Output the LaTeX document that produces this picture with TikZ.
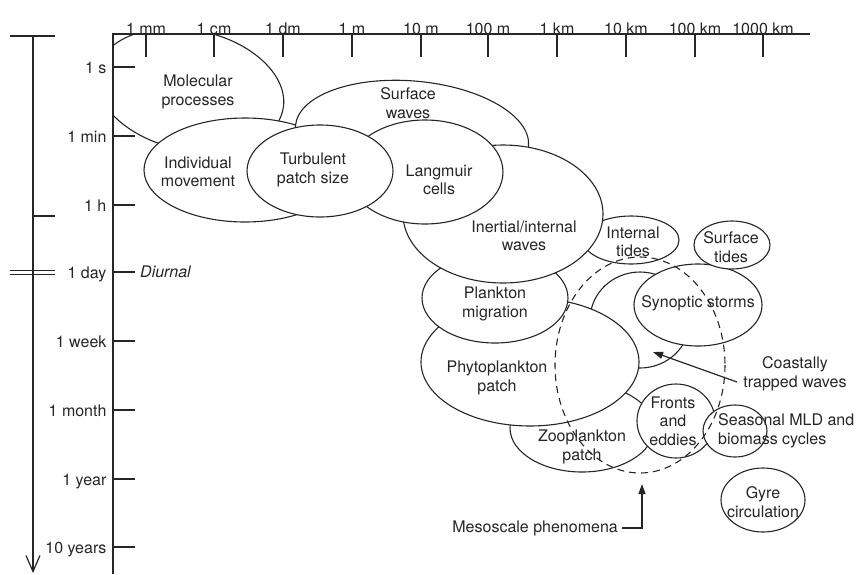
\documentclass[tikz,border=0pt]{standalone}
\usepackage{fontspec}
\setmainfont{TeX Gyre Heros}
\usetikzlibrary{arrows.meta}
\definecolor{ink}{HTML}{262626}
\begin{document}
\begin{tikzpicture}[x=1pt,y=-1pt,
  blob/.style={draw=ink, fill=white, line width=1.1pt},
  meso/.style={draw=ink, line width=1.1pt, dash pattern=on 7pt off 5pt},
  lbl/.style={text=ink, align=center, inner sep=0pt, font=\fontsize{16}{18.5}\selectfont},
  axisline/.style={draw=ink, line width=2.4pt, line join=miter},
  tickline/.style={draw=ink, line width=1.2pt},
  ptr/.style={draw=ink, line width=1.2pt, -{Triangle[length=10pt,width=7pt]}}]
\useasboundingbox (0,0) rectangle (860,574);

% ---- processes, back to front ----
\begin{scope}
  \clip (113,34) rectangle (860,574);
  \draw[blob, rotate around={-12:(190,90)}] (190,90) ellipse [x radius=95, y radius=60];
\end{scope}
\draw[blob] (245,170) ellipse [x radius=101, y radius=52];
\draw[blob, rotate around={-5:(412,136)}] (412,136) ellipse [x radius=117, y radius=55];
\draw[blob] (631,240) ellipse [x radius=48, y radius=24];
\draw[blob] (582,428) ellipse [x radius=72, y radius=44];
\draw[blob] (640,320) ellipse [x radius=50, y radius=48];
\draw[blob] (530,362) ellipse [x radius=109, y radius=64];
\draw[blob] (495,298) ellipse [x radius=73, y radius=45];
\draw[blob] (503,214) ellipse [x radius=100, y radius=69];
\draw[blob] (425,172) ellipse [x radius=78, y radius=52];
\draw[blob] (320,171) ellipse [x radius=73, y radius=46];
\draw[blob] (698,305) ellipse [x radius=64, y radius=41];
\draw[blob] (676,421) ellipse [x radius=39, y radius=37];
\draw[blob] (735,431) ellipse [x radius=32, y radius=26];
\draw[blob] (732,245) ellipse [x radius=38, y radius=24];
\draw[blob] (763,500) ellipse [x radius=42, y radius=32];
\draw[meso] (640,365) ellipse [x radius=85, y radius=108];

% ---- process labels ----
\node[lbl] (molecular) at (198,92) {Molecular\\processes};
\node[lbl] (individual) at (198,172) {Individual\\movement};
\node[lbl] (turbulent) at (313,170) {Turbulent\\patch size};
\node[lbl] (surfwaves) at (408,103) {Surface\\waves};
\node[lbl] (langmuir) at (439,180) {Langmuir\\cells};
\node[lbl] (inertial) at (524,236) {Inertial/internal\\waves};
\node[lbl] (inttides) at (633,242) {Internal\\tides};
\node[lbl] (surftides) at (731,247) {Surface\\tides};
\node[lbl] (synoptic) at (698,303) {Synoptic storms};
\node[lbl] (plankton) at (495,304) {Plankton\\migration};
\node[lbl] (phyto) at (497,378) {Phytoplankton\\patch};
\node[lbl] (zoo) at (582,447) {Zooplankton\\patch};
\node[lbl] (fronts) at (673,421) {Fronts\\and\\eddies};
\node[lbl, align=left, anchor=west] (seasonal) at (718,431) {Seasonal MLD and\\biomass cycles};
\node[lbl] (gyre) at (763,502) {Gyre\\circulation};
\node[lbl] (coastal) at (795,374) {Coastally\\trapped waves};
\node[lbl, anchor=east] (mesolbl) at (618,528) {Mesoscale phenomena};

% ---- pointers ----
\coordinate (ctwtail) at (737,382);
\coordinate (ctwtip) at (653,352);
\draw[ptr] (ctwtail) -- (ctwtip);
\coordinate (mesotip) at (642,484);
\draw[ptr] ([xshift=4pt]mesolbl.east) -| (mesotip);

% ---- length axis ----
\draw[axisline] (810,34) -- (113,34) -- (113,574);
\foreach \x/\t in {146/1 mm, 214/1 cm, 283/1 dm, 352/1 m, 421/10 m,
                   488/100 m, 557/1 km, 626/10 km, 695/100 km, 763/1000 km}
  \draw[tickline] (\x,34) -- (\x,57) node[lbl, anchor=base, pos=0] at (\x,27) {\t};

% ---- time axis ----
\foreach \y/\t in {67/1 s, 136/1 min, 205/1 h, 272/1 day, 341/1 week,
                   410/1 month, 479/1 year, 547/10 years}
  \draw[tickline] (113,\y) -- (135,\y) node[lbl, anchor=base east] at (107,\y+6) {\t};
\node[lbl, anchor=west, font=\fontsize{16}{18.5}\selectfont\itshape] (diurnal) at (140,272) {Diurnal};

% ---- outer time arrow ----
\draw[tickline] (10,36) -- (55,36);
\draw[tickline] (33,216) -- (55,216);
\draw[draw=ink, line width=0.9pt] (10,270) -- (55,270) (10,274) -- (55,274);
\draw[draw=ink, line width=1.2pt, -{Straight Barb[length=16pt,width=14pt,line width=1.2pt]}] (33,36) -- (33,573);
\end{tikzpicture}
\end{document}
